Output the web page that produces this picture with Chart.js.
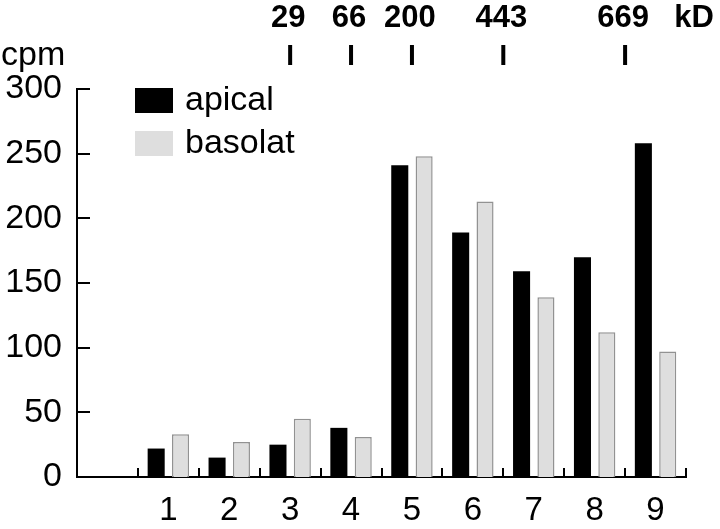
<!DOCTYPE html>
<html><head><meta charset="utf-8">
<script src="https://cdn.jsdelivr.net/npm/chart.js@4"></script>
<style>html,body{margin:0;padding:0;background:#fff}</style>
</head><body>
<canvas id="c" width="720" height="529"></canvas>
<script>
const categories = ['', '1', '2', '3', '4', '5', '6', '7', '8', '9'];
const apical = [null, 22, 15, 25, 38, 241, 189, 159, 170, 258];
const basolat = [null, 33, 27, 45, 31, 248, 213, 139, 112, 97];
const yTicks = [0, 50, 100, 150, 200, 250, 300];
const markerLabels = ['29', '66', '200', '443', '669'];
const markerPositions = [3, 4, 5, 6.5, 8.5];
const unitLabel = 'kD';
const yAxisTitle = 'cpm';
const seriesNames = ['apical', 'basolat'];

const F = '"Liberation Sans", Arial, Helvetica, sans-serif';

const decor = {
  id: 'decor',
  afterDraw(chart) {
    const ctx = chart.ctx, ca = chart.chartArea;
    const xs = chart.scales.x, ys = chart.scales.y;
    ctx.save();
    ctx.strokeStyle = '#000';
    ctx.fillStyle = '#000';
    // y ticks (inward)
    ctx.lineWidth = 2;
    yTicks.forEach(v => {
      if (v === 0) return;
      const py = Math.round(ys.getPixelForValue(v));
      ctx.beginPath(); ctx.moveTo(ca.left, py); ctx.lineTo(ca.left + 13, py); ctx.stroke();
    });
    // x ticks at category boundaries (inward)
    for (let i = 0; i < categories.length; i++) {
      const px = Math.round(xs.getPixelForValue(i + 0.5));
      ctx.beginPath(); ctx.moveTo(px, ca.bottom); ctx.lineTo(px, ca.bottom - 9); ctx.stroke();
    }
    // legend
    chart.data.datasets.forEach((ds, i) => {
      const bx = ca.left + 58, by = ca.top + i * 43 - 1;
      ctx.fillStyle = ds.backgroundColor;
      ctx.fillRect(bx, by, 38, 25);
      ctx.fillStyle = '#000';
      ctx.font = '34px ' + F;
      ctx.textAlign = 'left';
      ctx.textBaseline = 'middle';
      ctx.fillText(ds.label, bx + 50, by + 13);
    });
    // markers
    ctx.font = 'bold 31px ' + F;
    ctx.textAlign = 'center';
    ctx.textBaseline = 'middle';
    markerPositions.forEach((p, i) => {
      const px = xs.getPixelForValue(p);
      ctx.fillText(markerLabels[i], px - 2, 18);
      ctx.lineWidth = 4;
      ctx.beginPath(); ctx.moveTo(px, 45); ctx.lineTo(px, 65); ctx.stroke();
    });
    ctx.fillText(unitLabel, ca.right + 8, 18);
    // y title
    ctx.font = '34px ' + F;
    ctx.textAlign = 'left';
    ctx.textBaseline = 'alphabetic';
    ctx.fillText(yAxisTitle, 1, 65);
    ctx.restore();
  }
};

new Chart(document.getElementById('c'), {
  type: 'bar',
  data: {
    labels: categories,
    datasets: [
      { label: seriesNames[0], data: apical, backgroundColor: '#000000', borderWidth: 0,
        categoryPercentage: 0.8, barPercentage: 0.7 },
      { label: seriesNames[1], data: basolat, backgroundColor: '#dedede', borderColor: '#929292', borderWidth: 1.5,
        categoryPercentage: 0.8, barPercentage: 0.7 }
    ]
  },
  options: {
    responsive: false,
    animation: false,
    devicePixelRatio: 1,
    layout: { padding: { top: 89, right: 34, left: 0, bottom: 0 } },
    plugins: { legend: { display: false }, tooltip: { enabled: false } },
    scales: {
      x: {
        offset: true,
        grid: { display: false, drawTicks: false },
        border: { display: true, color: '#000', width: 2 },
        ticks: { font: { family: F, size: 33 }, color: '#000', padding: 14, maxRotation: 0, autoSkip: false },
        afterFit(s) { s.height = 52; }
      },
      y: {
        min: 0, max: 300,
        grid: { display: false, drawTicks: false },
        border: { display: true, color: '#000', width: 2 },
        ticks: { stepSize: 50, font: { family: F, size: 34 }, color: '#000', padding: 15 },
        afterFit(s) { s.width = 77; }
      }
    }
  },
  plugins: [decor]
});
</script>
</body></html>
